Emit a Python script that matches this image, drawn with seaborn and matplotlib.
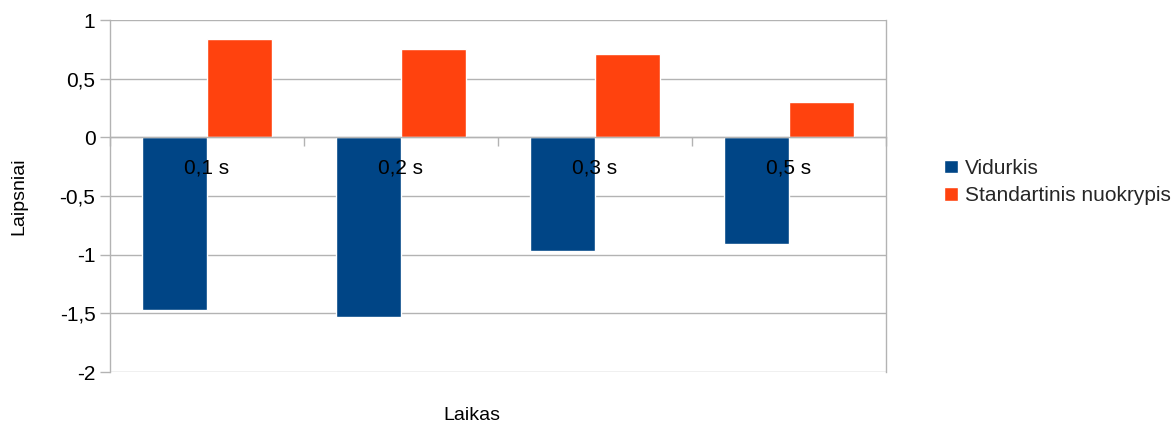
import matplotlib
matplotlib.use("Agg")
import matplotlib.pyplot as plt
import seaborn as sns
import pandas as pd
from matplotlib.ticker import FixedLocator, FixedFormatter

# duomenys
laikas = ['0,1 s', '0,2 s', '0,3 s', '0,5 s']
vidurkis = [-1.47, -1.535, -0.965, -0.905]
std_nuokrypis = [0.837, 0.752, 0.709, 0.301]
serijos = ['Vidurkis', 'Standartinis nuokrypis']
spalvos = ['#004586', '#ff420e']
y_ticks = [1, 0.5, 0, -0.5, -1, -1.5, -2]

df = pd.DataFrame({
    'Laikas': laikas * 2,
    'reiksme': vidurkis + std_nuokrypis,
    'serija': [serijos[0]] * 4 + [serijos[1]] * 4,
})

sns.set_theme(style='white')
plt.rcParams['font.family'] = ['Liberation Sans', 'DejaVu Sans']

fig = plt.figure(figsize=(11.74, 4.23), dpi=100)
ax = fig.add_axes([110 / 1174, 1 - 372 / 423, 776 / 1174, 352 / 423])

sns.barplot(data=df, x='Laikas', y='reiksme', hue='serija', order=laikas,
            hue_order=serijos, palette=spalvos, saturation=1, width=0.67,
            ax=ax)

ax.set_xlim(-0.5, len(laikas) - 0.5)
ax.set_ylim(-2, 1)

# ašys
gray = '#b3b3b3'
ax.set_axisbelow(True)
ax.xaxis.set_zorder(3)  # kategorijų pavadinimai virš stulpelių
ax.yaxis.grid(True, color=gray, lw=1)
ax.xaxis.grid(False)
ax.spines['top'].set_visible(False)
ax.spines['right'].set_color(gray)
ax.spines['left'].set_color(gray)
ax.spines['bottom'].set_color(gray)
ax.spines['bottom'].set_position(('data', 0))
for s in ax.spines.values():
    s.set_linewidth(1)

ax.yaxis.set_major_locator(FixedLocator(y_ticks))
ax.yaxis.set_major_formatter(FixedFormatter([f'{v:g}'.replace('.', ',') for v in y_ticks]))
ax.tick_params(axis='y', which='major', left=True, length=7, width=1, color=gray,
               pad=3.5, labelsize=15, labelcolor='black')

ax.xaxis.set_minor_locator(FixedLocator([i - 0.5 for i in range(len(laikas) + 1)]))
ax.tick_params(axis='x', which='major', length=0, pad=15, labelsize=15, labelcolor='black')
ax.tick_params(axis='x', which='minor', bottom=True, length=6.5, width=1, color=gray)

ax.set_xlabel('Laikas', fontsize=14, color='black')
ax.xaxis.set_label_coords((472 - 110) / 776, (372 - 407) / 352)
ax.set_ylabel('Laipsniai', fontsize=14, color='black')
ax.yaxis.set_label_coords((27 - 110) / 776, 0.5)

sns.move_legend(ax, 'center left', bbox_to_anchor=((944 - 110) / 776, 1 - (182 - 20) / 352),
                frameon=False, title=None, fontsize=15, borderpad=0, borderaxespad=0,
                handlelength=0.65, handleheight=0.65, handletextpad=0.35, labelspacing=0.4)

fig.savefig('out.png', dpi=100)
